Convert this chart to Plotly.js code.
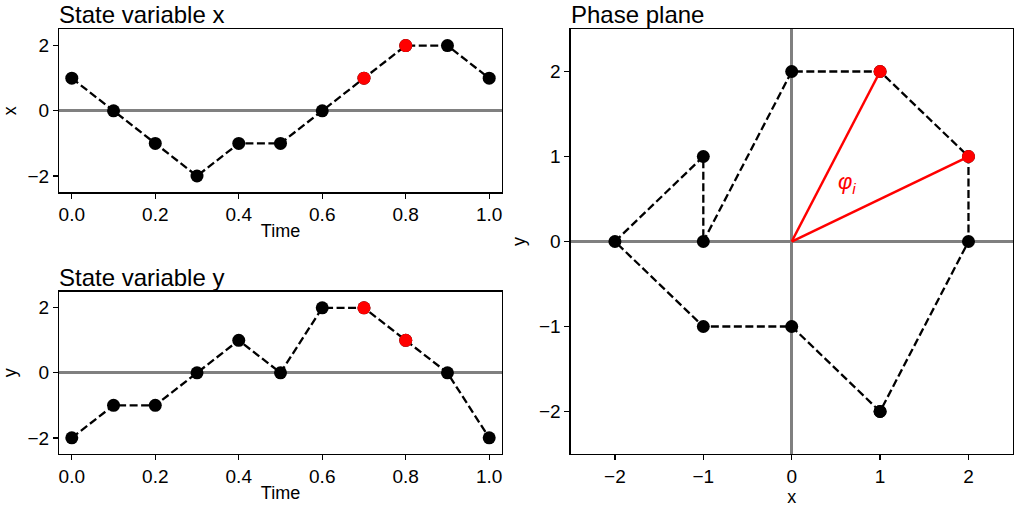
<!DOCTYPE html>
<html>
<head>
<meta charset="utf-8">
<script src="https://cdn.plot.ly/plotly-3.0.1.min.js"></script>
<style>html,body{margin:0;padding:0;background:#fff;}#chart{width:1015px;height:507px;}</style>
</head>
<body>
<div id="chart"></div>
<script>
// ---- data ----
const timeValues = [0.0, 0.1, 0.2, 0.3, 0.4, 0.5, 0.6, 0.7, 0.8, 0.9, 1.0];
const xValues = [1, 0, -1, -2, -1, -1, 0, 1, 2, 2, 1];
const yValues = [-2, -1, -1, 0, 1, 0, 2, 2, 1, 0, -2];
const highlightIdx = [7, 8];
const timeTicks = [0.0, 0.2, 0.4, 0.6, 0.8, 1.0];
const timeTickLabels = ['0.0', '0.2', '0.4', '0.6', '0.8', '1.0'];
const stateTicks = [-2, 0, 2];
const stateTickLabels = ['\u22122', '0', '2'];
const phaseTicks = [-2, -1, 0, 1, 2];
const phaseTickLabels = ['\u22122', '\u22121', '0', '1', '2'];
const titles = ['State variable x', 'State variable y', 'Phase plane'];
const angleLabel = '<i>\u03c6<sub>i</sub></i>';

// ---- styles ----
const FONT = 'Liberation Sans, Arial, sans-serif';
const dashLine = {color: 'black', width: 2.3, dash: '8px,3.5px'};
const blackMarker = {color: 'black', size: 13};
const redMarker = {color: '#ff0000', size: 13};
const pick = (arr) => highlightIdx.map(i => arr[i]);

const traces = [
  {x: timeValues, y: xValues, xaxis: 'x', yaxis: 'y', mode: 'lines+markers', line: dashLine, marker: blackMarker},
  {x: pick(timeValues), y: pick(xValues), xaxis: 'x', yaxis: 'y', mode: 'markers', marker: redMarker},
  {x: timeValues, y: yValues, xaxis: 'x2', yaxis: 'y2', mode: 'lines+markers', line: dashLine, marker: blackMarker},
  {x: pick(timeValues), y: pick(yValues), xaxis: 'x2', yaxis: 'y2', mode: 'markers', marker: redMarker},
  {x: xValues, y: yValues, xaxis: 'x3', yaxis: 'y3', mode: 'lines+markers', line: dashLine, marker: blackMarker},
];
highlightIdx.forEach(i => {
  traces.push({x: [0, xValues[i]], y: [0, yValues[i]], xaxis: 'x3', yaxis: 'y3', mode: 'lines',
    line: {color: '#ff0000', width: 2.5}});
});
traces.push({x: pick(xValues), y: pick(yValues), xaxis: 'x3', yaxis: 'y3', mode: 'markers', marker: redMarker});

const axisBase = {
  showline: true, mirror: true, linecolor: 'black', linewidth: 1.3,
  ticks: 'outside', ticklen: 5, tickwidth: 1.3, tickcolor: 'black',
  showgrid: false, tickfont: {family: FONT, size: 19, color: 'black'},
  zerolinecolor: '#808080', zerolinewidth: 3, fixedrange: true,
};
function ax(extra) { return Object.assign({}, axisBase, extra); }
const axTitle = (t, s) => ({text: t, font: {size: 18}, standoff: s});

const layout = {
  width: 1015, height: 507,
  margin: {l: 0, r: 0, t: 0, b: 0},
  paper_bgcolor: 'white', plot_bgcolor: 'white',
  showlegend: false,
  font: {family: FONT, color: 'black'},
  xaxis: ax({domain: [0.0584, 0.4943], anchor: 'y', range: [-0.03, 1.03], tickvals: timeTicks, ticktext: timeTickLabels,
    zeroline: false, title: axTitle('Time', 0)}),
  yaxis: ax({domain: [0.6207, 0.9422], anchor: 'x', range: [-2.5, 2.5], tickvals: stateTicks, ticktext: stateTickLabels,
    zeroline: true, title: axTitle('x', 8)}),
  xaxis2: ax({domain: [0.0584, 0.4943], anchor: 'y2', range: [-0.03, 1.03], tickvals: timeTicks, ticktext: timeTickLabels,
    zeroline: false, title: axTitle('Time', 0)}),
  yaxis2: ax({domain: [0.1043, 0.4250], anchor: 'x2', range: [-2.5, 2.5], tickvals: stateTicks, ticktext: stateTickLabels,
    zeroline: true, title: axTitle('y', 8)}),
  xaxis3: ax({domain: [0.5623, 0.9977], anchor: 'y3', range: [-2.5, 2.5], tickvals: phaseTicks, ticktext: phaseTickLabels,
    zeroline: true, title: axTitle('x', 0)}),
  yaxis3: ax({domain: [0.1045, 0.9428], anchor: 'x3', range: [-2.5, 2.5], tickvals: phaseTicks, ticktext: phaseTickLabels,
    zeroline: true, title: axTitle('y', 8)}),
  annotations: [
    {text: titles[0], xref: 'paper', yref: 'paper', x: 0.0584, y: 0.9422, xanchor: 'left', yanchor: 'bottom', xshift: -2, yshift: -1, showarrow: false, font: {size: 24}},
    {text: titles[1], xref: 'paper', yref: 'paper', x: 0.0584, y: 0.4250, xanchor: 'left', yanchor: 'bottom', xshift: -2, yshift: -1, showarrow: false, font: {size: 24}},
    {text: titles[2], xref: 'paper', yref: 'paper', x: 0.5623, y: 0.9428, xanchor: 'left', yanchor: 'bottom', xshift: -2, yshift: -1, showarrow: false, font: {size: 24}},
    {text: angleLabel, xref: 'x3', yref: 'y3', x: 0.5, y: 0.5, xanchor: 'left', yanchor: 'bottom', showarrow: false, font: {size: 22, color: '#ff0000'}},
  ],
};

Plotly.newPlot('chart', traces, layout, {staticPlot: true, displayModeBar: false});
</script>
</body>
</html>
